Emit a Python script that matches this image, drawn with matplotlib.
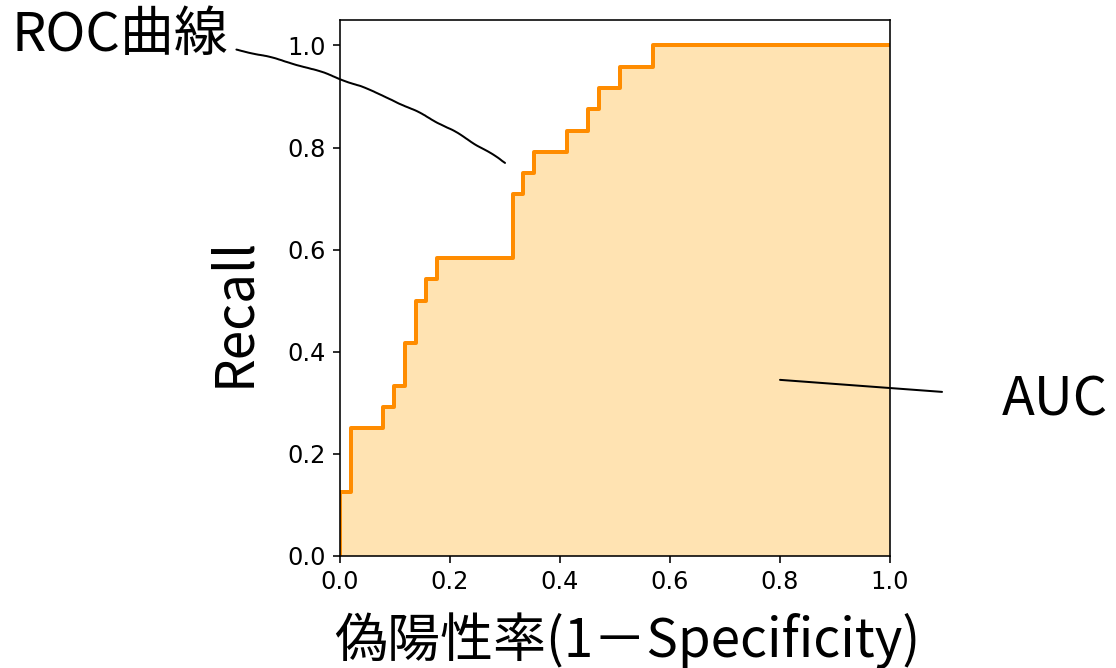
import matplotlib.pyplot as plt

# ============================================================
# DATA
# ============================================================

FPR = [0.0, 0.0, 0.0196, 0.0784, 0.098, 0.1176, 0.1373, 0.1569, 0.1765,
       0.3137, 0.3333, 0.3529, 0.4118, 0.451, 0.4706, 0.5098, 0.5686, 1.0]
TPR = [0.0, 0.125, 0.25, 0.2917, 0.3333, 0.4167, 0.5, 0.5417, 0.5833,
       0.7083, 0.75, 0.7917, 0.8333, 0.875, 0.9167, 0.9583, 1.0, 1.0]

X_TICKS = [0.0, 0.2, 0.4, 0.6, 0.8, 1.0]
Y_TICKS = [0.0, 0.2, 0.4, 0.6, 0.8, 1.0]

XLABEL = "偽陽性率(1－Specificity)"
YLABEL = "Recall"
ROC_TEXT = "ROC曲線"
AUC_TEXT = "AUC"

JP_FONT = ["Noto Sans CJK JP", "DejaVu Sans"]

# ============================================================
# PLOT
# ============================================================

plt.rcParams["font.family"] = ["DejaVu Sans"]

DPI = 144
fig = plt.figure(figsize=(1116 / DPI, 668 / DPI), dpi=DPI)
ax = fig.add_axes([0.3047, 0.1677, 0.4928, 0.8024])

ax.fill_between(FPR, TPR, step="post", color="orange", alpha=0.3, linewidth=0)
ax.step(FPR, TPR, where="post", color="darkorange", linewidth=2)

ax.set_xlim(0, 1)
ax.set_ylim(0, 1.05)
ax.set_xticks(X_TICKS)
ax.set_yticks(Y_TICKS)
ax.tick_params(labelsize=12)

ax.set_xlabel(XLABEL, fontsize=26.5, family=JP_FONT)
ax.xaxis.set_label_coords(0.522, -0.105)
ax.set_ylabel(YLABEL, fontsize=26.5, family=JP_FONT)
ax.yaxis.set_label_coords(-0.144, 0.455)

roc = ax.annotate(
    ROC_TEXT,
    xy=(0.3, 0.77),
    xytext=(-0.4, 1.02),
    fontsize=27,
    family=JP_FONT,
    ha="center",
    va="center",
    annotation_clip=False,
    arrowprops=dict(
        arrowstyle="-",
        connectionstyle="arc3,rad=-0.14",
        color="black",
        linewidth=1,
        shrinkA=2,
        shrinkB=0,
    ),
)
# slight hand-drawn wobble
roc.arrow_patch.set_sketch_params(scale=0.5, length=60, randomness=3)

ax.annotate(
    AUC_TEXT,
    xy=(0.8, 0.345),
    xytext=(1.3, 0.305),
    fontsize=27,
    family=JP_FONT,
    ha="center",
    va="center",
    annotation_clip=False,
    arrowprops=dict(
        arrowstyle="-",
        color="black",
        linewidth=1,
        shrinkA=28,
        shrinkB=0,
    ),
)

fig.savefig("out.png", dpi=DPI)
plt.close(fig)
